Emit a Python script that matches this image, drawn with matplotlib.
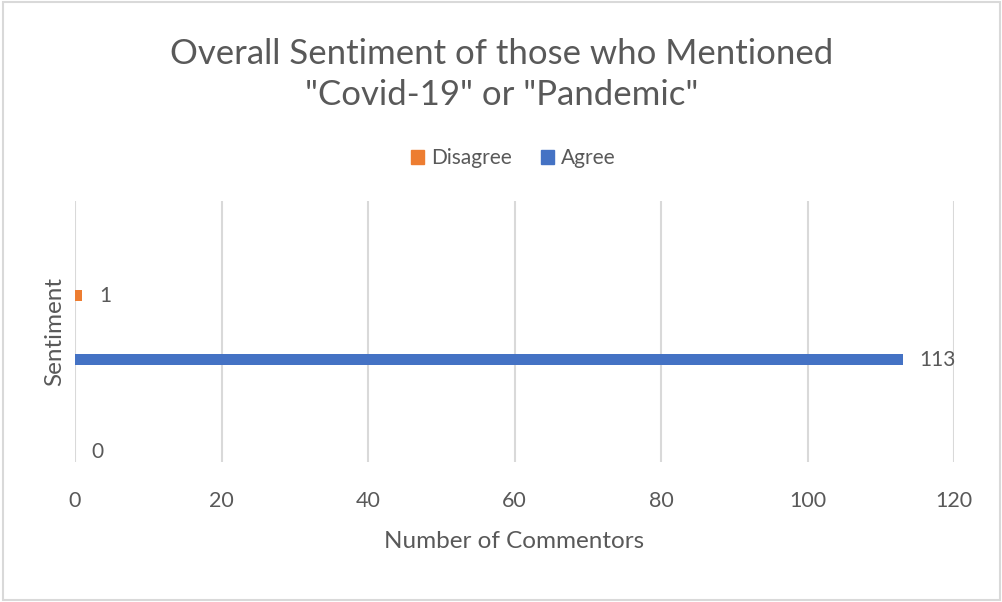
"""
Overall sentiment of commentors who mentioned Covid-19 / Pandemic.
Horizontal bar chart styled like the Excel original.
"""

import matplotlib
matplotlib.use("Agg")
import matplotlib.pyplot as plt
from matplotlib.patches import Rectangle

plt.rcParams['font.family'] = ['Lato', 'DejaVu Sans']

# data
series_names = ['Disagree', 'Agree']
series_colors = ['#ED7D31', '#4472C4']
bar_series = ['Disagree', 'Agree', 'Agree']
bar_values = [1, 113, 0]
x_ticks = [0, 20, 40, 60, 80, 100, 120]

title = 'Overall Sentiment of those who Mentioned\n"Covid-19" or "Pandemic"'
x_label = 'Number of Commentors'
y_label = 'Sentiment'

text_col = '#595959'
grid_col = '#D9D9D9'

fig = plt.figure(figsize=(10.03, 6.02), dpi=100)
ax = fig.add_axes([0.0748, 0.2326, 0.8764, 0.4336])

# vertical slots for the bars (axis fraction)
slots = [0.636, 0.391, 0.038]
bar_h = 0.042
for pos, name, val in zip(slots, bar_series, bar_values):
    col = series_colors[series_names.index(name)]
    if val > 0:
        ax.barh(pos, val, height=bar_h, color=col, zorder=3)
    ax.text(val + 2.3, pos, str(val), va='center', ha='left',
            fontsize=15, color=text_col)

ax.set_xlim(0, 120)
ax.set_ylim(0, 1)
ax.set_xticks(x_ticks)
ax.set_yticks([])
ax.tick_params(axis='x', length=0, pad=21, labelsize=15.5, labelcolor=text_col)
ax.grid(axis='x', color=grid_col, linewidth=1.5, zorder=0)
for s in ax.spines.values():
    s.set_visible(False)

ax.set_xlabel(x_label, fontsize=17.5, color=text_col, labelpad=14)
ax.set_ylabel(y_label, fontsize=17.5, color=text_col, labelpad=7)

fig.text(0.5, 0.876, title, ha='center', va='center', fontsize=25,
         color=text_col, linespacing=1.35)

# legend
handles = [Rectangle((0, 0), 1, 1, color=c) for c in series_colors]
fig.legend(handles, series_names, loc='center', bbox_to_anchor=(0.512, 0.737),
           ncol=2, frameon=False, fontsize=15, handlelength=0.6,
           handleheight=0.6, handletextpad=0.35, columnspacing=1.4,
           labelcolor=text_col)

# outer chart border
fig.patches.append(Rectangle((0.003, 0.003), 0.994, 0.993, transform=fig.transFigure,
                             fill=False, edgecolor=grid_col, linewidth=1.5))

fig.savefig('out.png', dpi=100)
